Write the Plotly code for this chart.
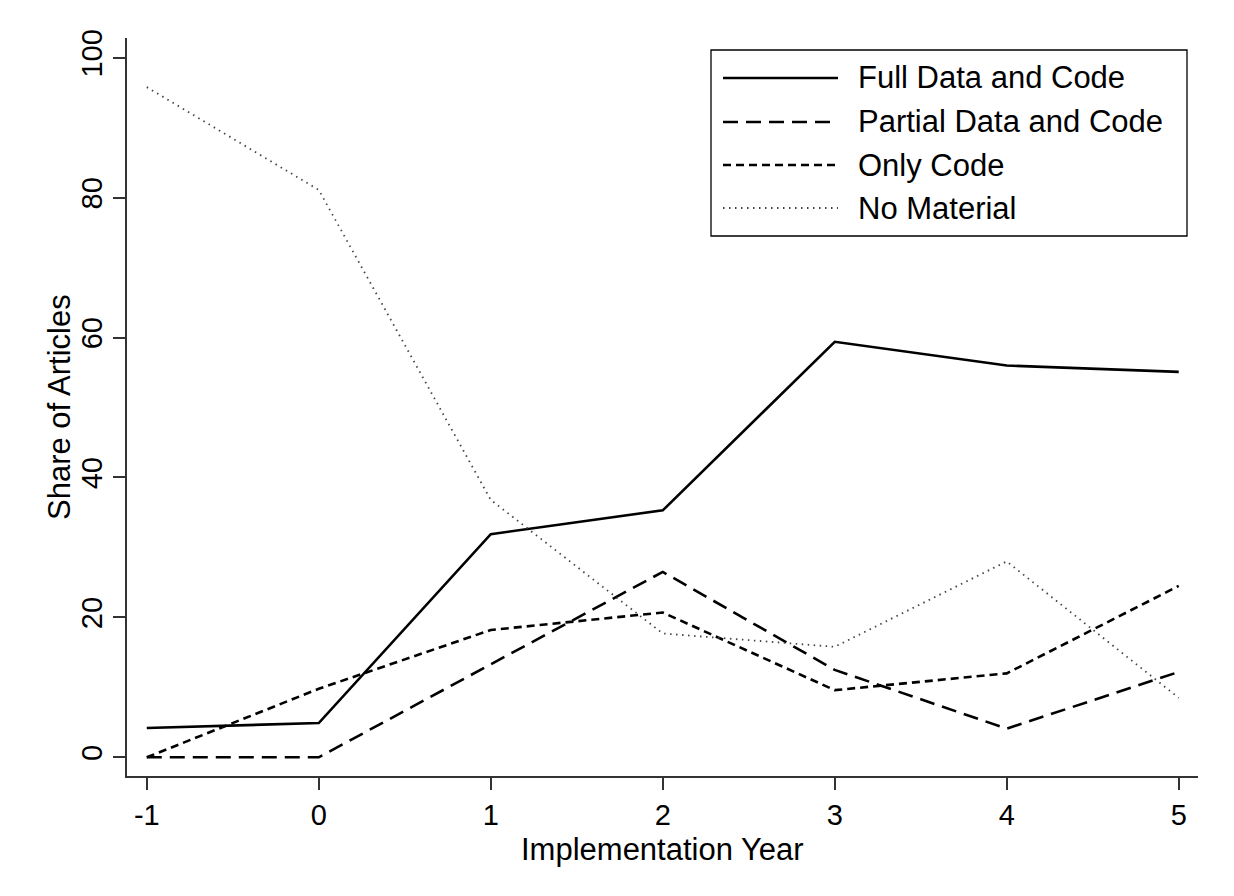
import plotly.graph_objects as go

years = [-1, 0, 1, 2, 3, 4, 5]
full_data_code = [4.2, 4.9, 31.9, 35.3, 59.4, 56.0, 55.1]
partial_data_code = [0.0, 0.0, 13.3, 26.5, 12.5, 4.1, 12.2]
only_code = [0.0, 9.8, 18.2, 20.7, 9.6, 12.0, 24.5]
no_material = [95.8, 81.1, 36.8, 17.7, 15.8, 28.0, 8.5]

series_names = ["Full Data and Code", "Partial Data and Code", "Only Code", "No Material"]
series_values = [full_data_code, partial_data_code, only_code, no_material]
x_ticks = [-1, 0, 1, 2, 3, 4, 5]
y_ticks = [0, 20, 40, 60, 80, 100]
x_title = "Implementation Year"
y_title = "Share of Articles"

styles = [
    dict(color="black", width=2.6, dash="solid"),
    dict(color="black", width=2.6, dash="15px,8px"),
    dict(color="black", width=2.6, dash="8px,5px"),
    dict(color="#444444", width=1.8, dash="1.5px,4.5px"),
]

FONT = "Liberation Sans, Arial, sans-serif"
OFF = 8  # page body margin
W, H = 1234 - OFF, 896 - OFF
L, R, T, B = 127 - OFF, 36, 38 - OFF, 120

fig = go.Figure()
for name, vals, st in zip(series_names, series_values, styles):
    fig.add_trace(go.Scatter(x=years, y=vals, mode="lines", name=name,
                             line=st, showlegend=False))

# page pixel -> paper coordinates
pw, ph = W - L - R, H - T - B
def px_x(px):
    return (px - OFF - L) / pw
def px_y(py):
    return (H - B - (py - OFF)) / ph

# custom legend (long sample lines as in the reference)
shapes = [dict(type="rect", xref="paper", yref="paper",
               x0=px_x(711), x1=px_x(1187), y0=px_y(236), y1=px_y(50),
               line=dict(color="black", width=1.3), fillcolor="white", layer="above")]
annotations = []
row_y = [78, 122, 165, 208]
for name, st, ry in zip(series_names, styles, row_y):
    shapes.append(dict(type="line", xref="paper", yref="paper",
                       x0=px_x(723), x1=px_x(838), y0=px_y(ry), y1=px_y(ry),
                       line=st, layer="above"))
    annotations.append(dict(xref="paper", yref="paper", x=px_x(856), y=px_y(ry),
                            text=name, showarrow=False, xanchor="left", yanchor="middle",
                            font=dict(family=FONT, size=31, color="black")))

# axis titles
annotations.append(dict(xref="paper", yref="paper", x=0.5, y=px_y(849),
                        text=x_title, showarrow=False, xanchor="center", yanchor="middle",
                        font=dict(family=FONT, size=31, color="black")))
annotations.append(dict(xref="paper", yref="paper", x=px_x(59), y=0.5,
                        text=y_title, showarrow=False, textangle=-90,
                        xanchor="center", yanchor="middle",
                        font=dict(family=FONT, size=31, color="black")))

fig.update_layout(
    width=W, height=H,
    margin=dict(l=L, r=R, t=T, b=B, pad=0),
    paper_bgcolor="white", plot_bgcolor="white",
    font=dict(family=FONT, color="black"),
    shapes=shapes, annotations=annotations,
)
fig.update_xaxes(
    range=[-1.115, 5.112], tickvals=x_ticks, ticktext=[str(v) for v in x_ticks],
    showgrid=False, zeroline=False, showline=True, linecolor="#333333", linewidth=1.5,
    ticks="outside", ticklen=12, tickwidth=1.5, tickcolor="#333333",
    tickfont=dict(family=FONT, size=29, color="black"),
)
fig.update_yaxes(
    range=[-2.67, 102.82], tickvals=y_ticks, ticktext=[str(v) for v in y_ticks],
    tickangle=-90,
    showgrid=False, zeroline=False, showline=True, linecolor="#333333", linewidth=1.5,
    ticks="outside", ticklen=12, tickwidth=1.5, tickcolor="#333333",
    tickfont=dict(family=FONT, size=29, color="black"),
)

fig.write_html("out.html")
